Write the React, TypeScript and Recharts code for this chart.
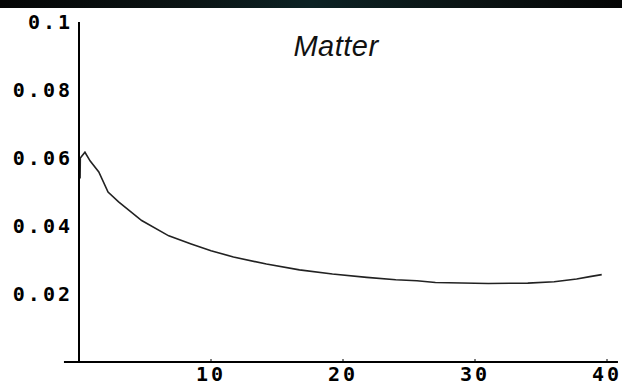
import { LineChart, Line, XAxis, YAxis, ReferenceLine } from 'recharts';

// curve (x, matter value)
const xs = [0.08, 0.1, 0.45, 0.85, 1.5, 2.2, 3, 4.75, 6.8, 8.5, 10, 11.7, 14.2, 16.7, 19.2, 21.8, 24, 25.6, 27, 31, 34, 36, 37.7, 38.7, 39.6];
const matter = [0.054, 0.06, 0.0617, 0.0591, 0.0559, 0.05, 0.0471, 0.0416, 0.0371, 0.0347, 0.0327, 0.0309, 0.0288, 0.0271, 0.0259, 0.0249, 0.0242, 0.0239, 0.0234, 0.0231, 0.0232, 0.0236, 0.0244, 0.0251, 0.0257];

const xTicks = [10, 20, 30, 40];
const yTicks = [0.02, 0.04, 0.06, 0.08, 0.1];

const data = xs.map((x, i) => ({ x, y: matter[i] }));

const tickFont = {
  fontSize: 20,
  fontFamily: '"DejaVu Sans Mono", monospace',
  fontWeight: 700,
  fill: '#000',
  letterSpacing: 3,
};

export default function App() {
  return (
    <div style={{ position: 'relative', width: 622, height: 390, background: '#fff', overflow: 'hidden' }}>
      <style>{'body{margin:0}'}</style>
      {/* dark strip along the top edge */}
      <div
        style={{
          position: 'absolute',
          left: 0,
          top: 0,
          width: 622,
          height: 8,
          background: 'linear-gradient(90deg, #050606 0%, #0b1414 30%, #0c2224 50%, #0b1414 75%, #050606 100%)',
        }}
      />
      <div
        style={{
          position: 'absolute',
          left: 0,
          top: 30,
          width: 672,
          textAlign: 'center',
          fontFamily: '"Liberation Sans", Arial, sans-serif',
          fontStyle: 'italic',
          fontSize: 29,
          color: '#111',
          letterSpacing: 0.5,
        }}
      >
        Matter
      </div>
      <LineChart width={622} height={390} data={data} margin={{ top: 22, right: 15, bottom: 0, left: 0 }}>
        <XAxis
          type="number"
          dataKey="x"
          domain={[0, 40]}
          ticks={xTicks}
          height={28}
          axisLine={false}
          tickSize={-3}
          tickMargin={8}
          tickLine={{ stroke: '#000', strokeWidth: 1 }}
          tick={tickFont}
        />
        <YAxis
          type="number"
          domain={[0, 0.1]}
          ticks={yTicks}
          width={79}
          axisLine={{ stroke: '#000', strokeWidth: 2 }}
          tickLine={false}
          tickSize={0}
          tickMargin={6}
          tickFormatter={(v: number) => String(v)}
          tick={tickFont}
        />
        <ReferenceLine
          ifOverflow="visible"
          segment={[
            { x: -1.14, y: 0 },
            { x: 40.83, y: 0 },
          ]}
          stroke="#000"
          strokeWidth={2}
        />
        <Line
          type="linear"
          dataKey="y"
          stroke="#222"
          strokeWidth={1.6}
          dot={false}
          isAnimationActive={false}
        />
      </LineChart>
    </div>
  );
}
